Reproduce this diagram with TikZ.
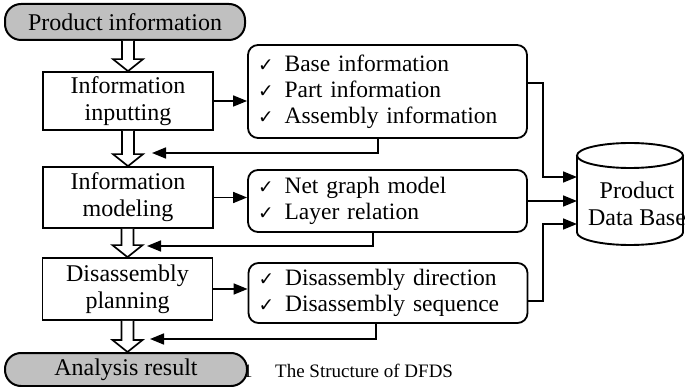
\documentclass[tikz,border=0pt]{standalone}
\usepackage{graphicx}
\usepackage{fontspec}
\setmainfont{Liberation Serif}
\newfontfamily\symfont{DejaVu Sans}
\usetikzlibrary{arrows.meta,calc}
\definecolor{termgray}{RGB}{192,192,192}

% check mark used in the item lists
\newcommand{\chk}{\scalebox{1.55}{\symfont\fontsize{12}{12}\selectfont ✓}\hspace{11pt}}

% wide hollow arrow between two stacked nodes, at the x of node #3
\newcommand{\flowdown}[3]{%
  \draw[hollow] let \p1=(#1.south), \p2=(#2.north), \p3=(#3.center) in
    (\x3-6pt,\y1) -- (\x3-6pt,\y2+12pt) -- (\x3-15pt,\y2+12pt) -- (\x3,\y2)
    -- (\x3+15pt,\y2+12pt) -- (\x3+6pt,\y2+12pt) -- (\x3+6pt,\y1);}

\begin{document}
\begin{tikzpicture}[x=1pt,y=-1pt,
  every node/.style={font=\fontsize{24}{27}\selectfont, inner sep=0pt},
  stepbox/.style={draw, line width=1.7pt, minimum width=170pt, align=center},
  listbox/.style={draw, line width=1.8pt, rounded corners=10pt, text width=259pt,
    inner xsep=10pt, align=left, font=\fontsize{23.5}{26}\selectfont},
  terminal/.style={draw, line width=2pt, fill=termgray, rounded corners=16pt},
  link/.style={line width=1.6pt, -{Triangle[length=14pt,width=11pt]}},
  hollow/.style={draw, line width=1.7pt, fill=white, line join=miter},
  dbline/.style={line width=1.9pt}]
\useasboundingbox (0,0) rectangle (685,387);

% start terminal
\node[terminal, minimum width=240pt, minimum height=36pt] (pin) at (125,22) {Product information};

% process steps
\node[stepbox, minimum height=58pt] (box1) at (128,101) {Information\\inputting};
\node[stepbox, minimum height=61pt] (box2) at (128,197.5) {Information\\modeling};
\node[stepbox, minimum height=62pt] (box3) at (127.5,289) {Disassembly\\planning};

% item lists
\node[listbox, minimum height=93pt] (list1) at (387.5,91.5)
  {\chk Base information\\\chk Part information\\\chk Assembly information};
\node[listbox, minimum height=62pt] (list2) at (387.5,201)
  {\chk Net graph model\\\chk Layer relation};
\node[listbox, minimum height=60pt] (list3) at (388,293)
  {\chk Disassembly direction\\\chk Disassembly sequence};

% caption (partly covered by the end terminal)
\node[anchor=base west, font=\fontsize{19}{19}\selectfont] (fignum) at (243,377) {1};
\node[anchor=base west, font=\fontsize{19}{19}\selectfont] (caption) at (275,377) {The Structure of DFDS};

% end terminal
\node[terminal, minimum width=242pt, minimum height=33pt] (pout) at (126,369.5) {Analysis result};

% database cylinder
\draw[dbline] (577,155.5) -- (577,232.5)
  .. controls (577,239.4) and (600.7,245) .. (630,245)
  .. controls (659.3,245) and (683,239.4) .. (683,232.5) -- (683,155.5);
\draw[dbline] (630,155.5) ellipse [x radius=53, y radius=12.5];
\node[align=center] (db) at (637,204) {Product\\Data Base};
\coordinate (dbin1) at (577,177);
\coordinate (dbin2) at (577,201);
\coordinate (dbin3) at (577,224);
\coordinate (bus) at (543,0);

% main flow
\flowdown{pin}{box1}{box1}
\flowdown{box1}{box2}{box2}
\flowdown{box2}{box3}{box3}
\flowdown{box3}{pout}{box3}

% steps to their item lists
\draw[link] (box1.east) -- (box1.east -| list1.west);
\draw[link] (box2.east) -- (box2.east -| list2.west);
\draw[link] (box3.east) -- (box3.east -| list3.west);

% feedback from the lists into the flow
\coordinate (back1) at (152,153);
\coordinate (back2) at (147,246);
\coordinate (back3) at (150,339);
\draw[link] ([xshift=-9.5pt]list1.south) |- (back1);
\draw[link] ([xshift=-14.5pt]list2.south) |- (back2);
\draw[link] ([xshift=-12pt]list3.south) |- (back3);

% lists into the database
\draw[link] ([yshift=8.5pt]list1.east) -| (bus |- dbin1) -- (dbin1);
\draw[link] (list2.east) -- (dbin2);
\draw[link] ([yshift=-8pt]list3.east) -| (bus |- dbin3) -- (dbin3);
\end{tikzpicture}
\end{document}
